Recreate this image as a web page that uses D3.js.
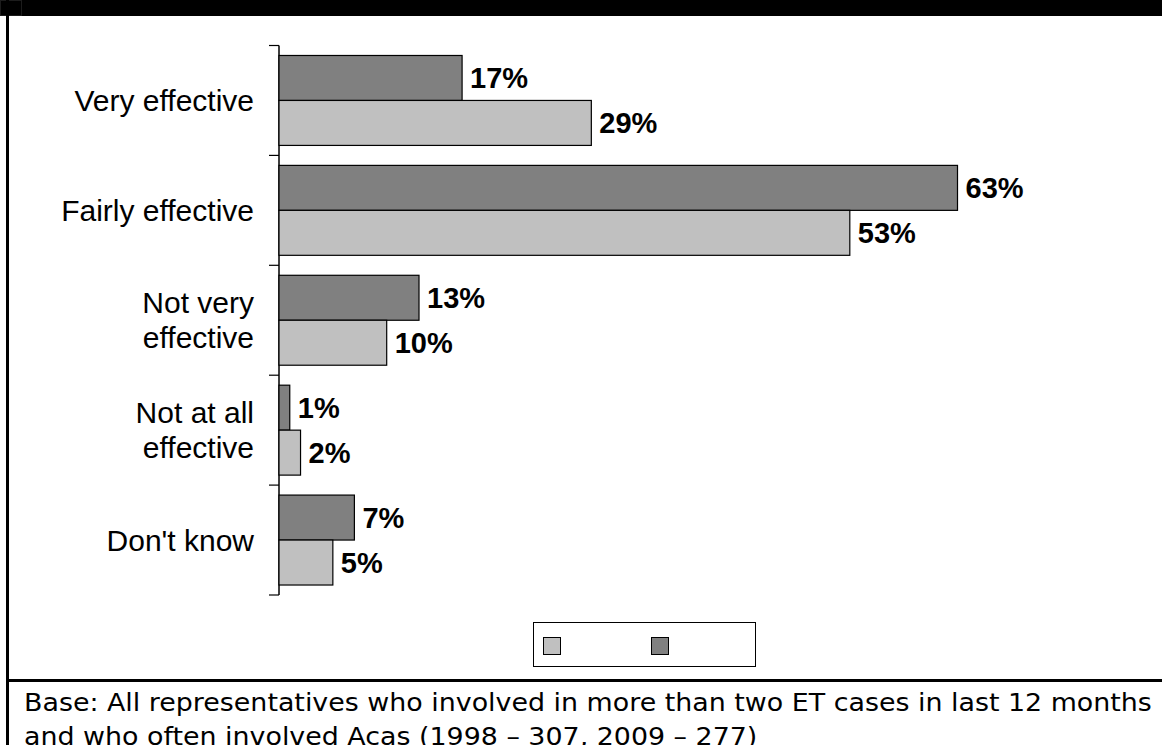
<!DOCTYPE html>
<html>
<head>
<meta charset="utf-8">
<script src="https://cdn.jsdelivr.net/npm/d3@7"></script>
<style>
  html, body { margin: 0; padding: 0; background: #fff; }
  svg { display: block; }
</style>
</head>
<body>
<svg id="chart" width="1162" height="745"></svg>
<script>
// Effectiveness ratings, two survey years
const categories = [
  ["Very effective"],
  ["Fairly effective"],
  ["Not very", "effective"],
  ["Not at all", "effective"],
  ["Don't know"]
];
const categoryKeys = categories.map(c => c.join(" "));
const series1998 = [29, 53, 10, 2, 5];
const series2009 = [17, 63, 13, 1, 7];
const seriesNames = ["1998", "2009"];
const seriesColors = { "1998": "#c0c0c0", "2009": "#808080" };
// 2009 bar sits above 1998 bar inside each category
const barOrder = ["2009", "1998"];
const baseNote = [
  "Base: All representatives who involved in more than two ET cases in last 12 months",
  "and who often involved Acas (1998 \u2013 307, 2009 \u2013 277)"
];

const rows = categoryKeys.map((k, i) => ({
  key: k,
  lines: categories[i],
  values: { "1998": series1998[i], "2009": series2009[i] }
}));

const W = 1162, H = 745;
const svg = d3.select("#chart");

// frame: heavy top band, left rule, separator above the note
svg.append("rect").attr("x", 0).attr("y", 0).attr("width", W).attr("height", 16).attr("fill", "#000");
svg.append("rect").attr("x", 0.5).attr("y", 0.5).attr("width", 21).attr("height", 15)
  .attr("fill", "none").attr("stroke", "#1c1c1c").attr("stroke-width", 1);
svg.append("rect").attr("x", 6).attr("y", 0).attr("width", 3).attr("height", H).attr("fill", "#000");
svg.append("rect").attr("x", 6).attr("y", 679).attr("width", W - 6).attr("height", 3).attr("fill", "#000");

// scales
const x0 = 279;
const x = d3.scaleLinear().domain([0, 80]).range([x0, x0 + 80 * 10.77]);
const y = d3.scaleBand().domain(categoryKeys).range([45.5, 595]).paddingInner(0).paddingOuter(0);
const yInner = d3.scaleBand().domain(barOrder).range([0, y.bandwidth()])
  .paddingInner(0).paddingOuter(0.222);

// category axis (left), ticks between categories
const axisG = svg.append("g");
axisG.append("line")
  .attr("x1", x0).attr("x2", x0)
  .attr("y1", y.range()[0]).attr("y2", y.range()[1])
  .attr("stroke", "#000").attr("stroke-width", 1.5);
const tickYs = categoryKeys.map(k => y(k)).concat([y.range()[1]]);
axisG.selectAll("line.tick").data(tickYs).join("line")
  .attr("class", "tick")
  .attr("x1", x0 - 10).attr("x2", x0)
  .attr("y1", d => d).attr("y2", d => d)
  .attr("stroke", "#000").attr("stroke-width", 1.2);

// category labels
const labelFont = "'Liberation Sans', Arial, sans-serif";
const catG = svg.append("g").selectAll("text").data(rows).join("text")
  .attr("font-family", labelFont).attr("font-size", 30).attr("fill", "#000")
  .attr("text-anchor", "end");
catG.each(function(d) {
  const t = d3.select(this);
  const cy = y(d.key) + y.bandwidth() / 2;
  const lh = 35;
  const n = d.lines.length;
  d.lines.forEach((ln, i) => {
    t.append("tspan")
      .attr("x", 254)
      .attr("y", cy + (i - (n - 1) / 2) * lh + 10.5)
      .text(ln);
  });
});

// bars
const groups = svg.append("g").selectAll("g").data(rows).join("g")
  .attr("transform", d => `translate(0,${y(d.key)})`);
groups.selectAll("rect").data(d => barOrder.map(s => ({ s, v: d.values[s] }))).join("rect")
  .attr("x", x0)
  .attr("y", d => yInner(d.s))
  .attr("width", d => x(d.v) - x0)
  .attr("height", yInner.bandwidth())
  .attr("fill", d => seriesColors[d.s])
  .attr("stroke", "#000").attr("stroke-width", 1.2);

// value labels
groups.selectAll("text").data(d => barOrder.map(s => ({ s, v: d.values[s] }))).join("text")
  .attr("x", d => x(d.v) + 8)
  .attr("y", d => yInner(d.s) + yInner.bandwidth() / 2 + 10.5)
  .attr("font-family", labelFont).attr("font-size", 29).attr("font-weight", "bold")
  .attr("fill", "#000")
  .text(d => d.v + "%");

// legend
const leg = svg.append("g");
leg.append("rect").attr("x", 533.5).attr("y", 622.5).attr("width", 222).attr("height", 44)
  .attr("fill", "#fff").attr("stroke", "#000").attr("stroke-width", 1);
leg.selectAll("rect.sw").data(seriesNames).join("rect")
  .attr("class", "sw")
  .attr("x", (d, i) => 543.5 + i * 108)
  .attr("y", 637.5)
  .attr("width", 17).attr("height", 17)
  .attr("fill", d => seriesColors[d])
  .attr("stroke", "#000").attr("stroke-width", 1);

// base note: set at 24px, then narrowed so the first line spans the panel
const noteX = 24, noteRight = 1152;
const noteG = svg.append("g");
const noteTexts = noteG.selectAll("text").data(baseNote).join("text")
  .attr("x", 0)
  .attr("y", (d, i) => 711 + i * 34)
  .attr("font-family", "Tahoma, 'DejaVu Sans', Verdana, sans-serif")
  .attr("font-size", 24)
  .attr("fill", "#000")
  .text(d => d);
const firstLen = noteTexts.nodes()[0].getComputedTextLength();
const sx = (noteRight - noteX) / firstLen;
noteG.attr("transform", `translate(${noteX},0) scale(${sx},1)`);
</script>
</body>
</html>
